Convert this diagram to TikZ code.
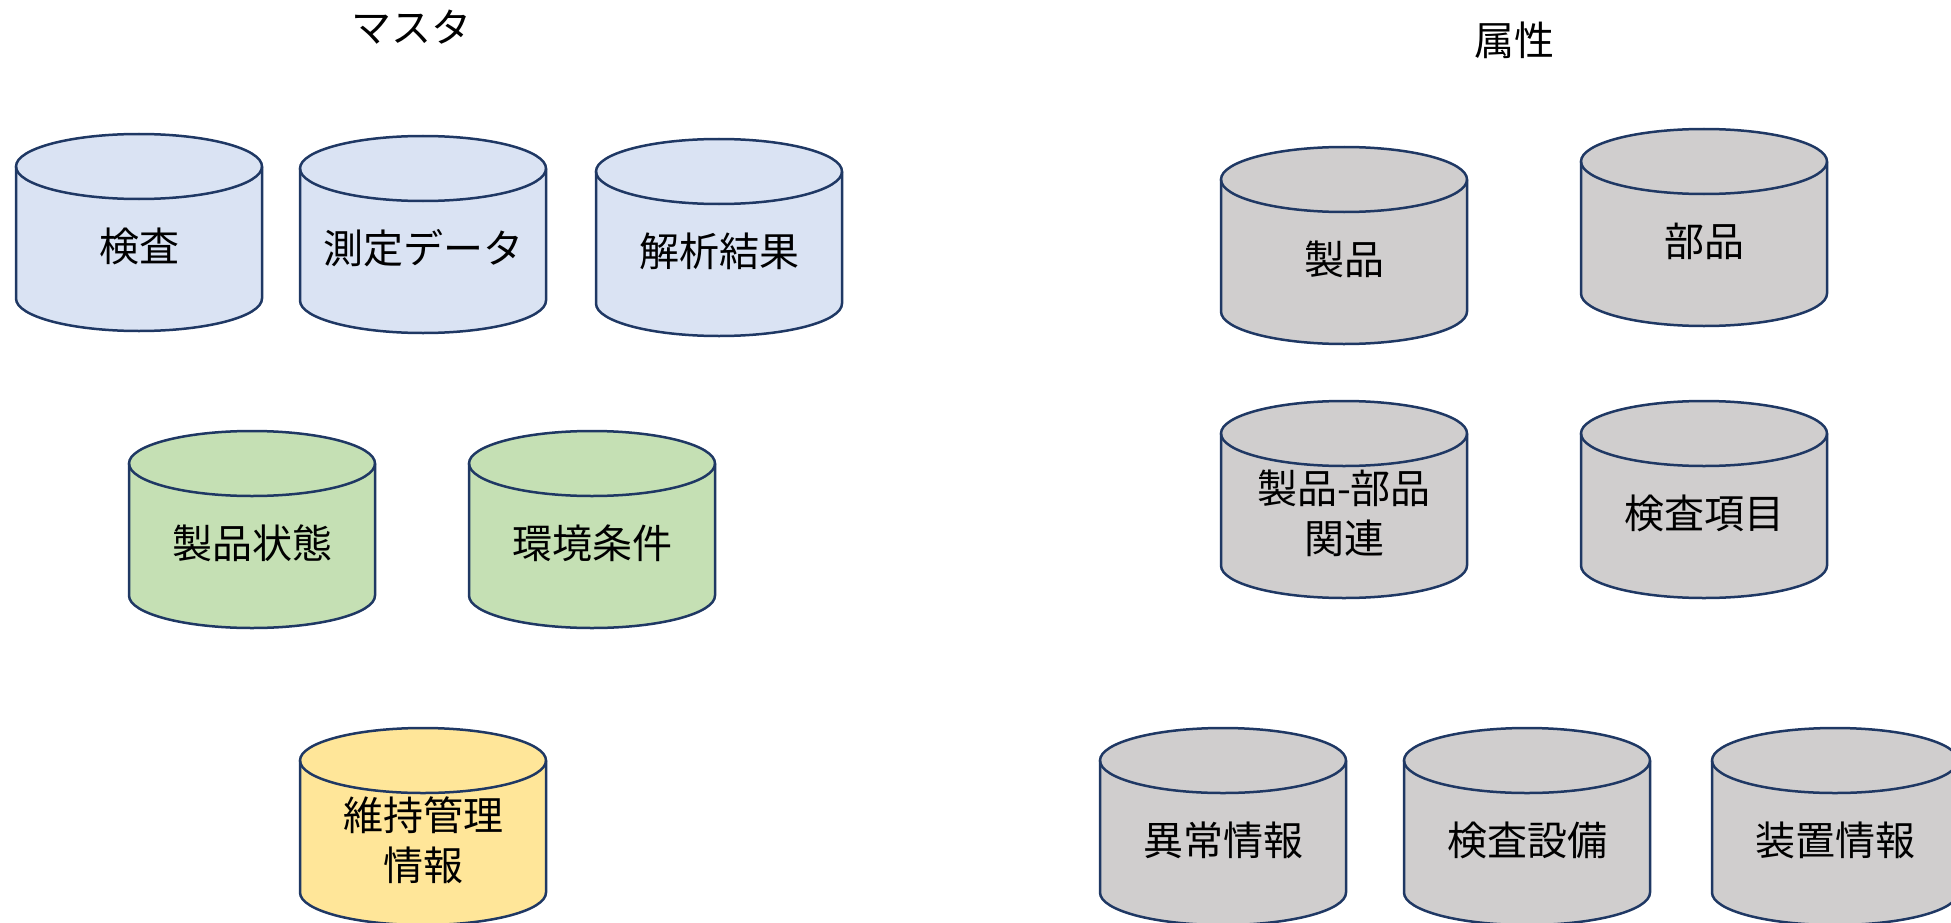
\documentclass[tikz,border=0pt]{standalone}
\usepackage{fontspec}
\setmainfont{Noto Sans CJK JP}
\definecolor{cline}{HTML}{1F3864}
\definecolor{cblue}{HTML}{DAE3F3}
\definecolor{cgreen}{HTML}{C5E0B4}
\definecolor{cyellow}{HTML}{FFE699}
\definecolor{cgray}{HTML}{D0CECE}
\tikzset{
  cylline/.style={draw=cline, line width=2.5pt},
  cyltext/.style={inner sep=0pt, align=center, font=\fontsize{40}{50}\selectfont, text=black},
  titletext/.style={inner sep=0pt, font=\fontsize{40}{50}\selectfont, text=black}
}
\newcommand{\dbcyl}[5]{%
  \begin{scope}[shift={(#2,-#3)}]
    \fill[#4] (0,-32.5) -- (0,-164.5) arc[start angle=180,end angle=360,x radius=123,y radius=32.5] -- (246,-32.5) arc[start angle=0,end angle=180,x radius=123,y radius=32.5] -- cycle;
    \draw[cylline] (0,-32.5) -- (0,-164.5) arc[start angle=180,end angle=360,x radius=123,y radius=32.5] -- (246,-32.5);
    \draw[cylline] (123,-32.5) ellipse[x radius=123,y radius=32.5];
    \node[cyltext] (#1) at (123,-112) {#5};
  \end{scope}}
\begin{document}
\begin{tikzpicture}[x=1pt,y=1pt]
\useasboundingbox (0,0) rectangle (1951,-923);
\clip (0,0) rectangle (1951,-923);
\node[titletext] (tmaster) at (411,-27) {マスタ};
\node[titletext] (tattr) at (1514,-40) {属性};
\dbcyl{kensa}{16}{134}{cblue}{検査}
\dbcyl{sokutei}{300}{136}{cblue}{測定データ}
\dbcyl{kaiseki}{596}{139}{cblue}{解析結果}
\dbcyl{jotai}{129}{431}{cgreen}{製品状態}
\dbcyl{kankyo}{469}{431}{cgreen}{環境条件}
\dbcyl{iji}{300}{728}{cyellow}{維持管理\\情報}
\dbcyl{seihin}{1221}{147}{cgray}{製品}
\dbcyl{buhin}{1581}{129}{cgray}{部品}
\dbcyl{kanren}{1221}{401}{cgray}{製品-部品\\関連}
\dbcyl{koumoku}{1581}{401}{cgray}{検査項目}
\dbcyl{ijo}{1100}{728}{cgray}{異常情報}
\dbcyl{setsubi}{1404}{728}{cgray}{検査設備}
\dbcyl{sochi}{1712}{728}{cgray}{装置情報}
\end{tikzpicture}
\end{document}
